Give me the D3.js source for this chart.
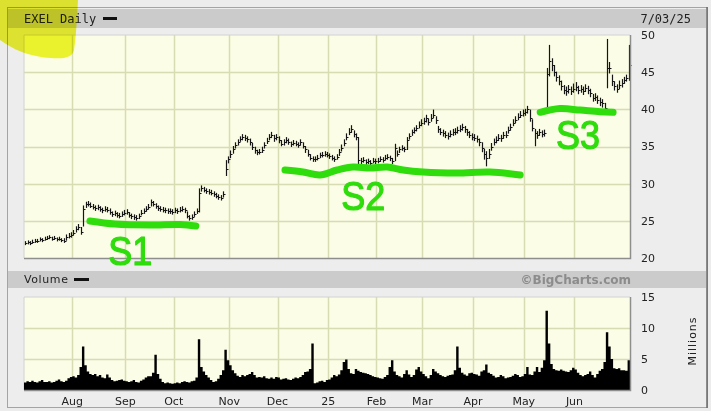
<!DOCTYPE html>
<html>
<head>
<meta charset="utf-8">
<script src="https://cdn.jsdelivr.net/npm/d3@7"></script>
<style>
body { margin: 0; background: #ececec; }
svg { display: block; }
text { font-family: "DejaVu Sans", Verdana, sans-serif; }
</style>
</head>
<body>
<div id="chart"></div>
<script>
// EXEL daily bars, Jul 3 2024 .. Jul 3 2025 (one entry per trading day)
var closes = [
  22.0,22.1,22.0,22.2,22.3,22.3,22.5,22.4,22.6,22.7,22.8,22.6,22.7,22.5,22.6,22.4,22.3,22.8,23.0,23.1,
  23.4,23.9,24.2,23.5,26.6,27.2,27.3,27.0,26.9,26.7,26.8,26.6,26.4,26.6,26.5,26.2,25.9,26.0,25.8,25.7,25.9,26.1,
  26.2,25.8,25.6,25.5,25.4,25.6,26.1,26.3,26.6,26.9,27.5,27.3,27.0,26.7,26.6,26.5,26.4,26.3,26.3,26.2,
  26.4,26.3,26.5,26.6,26.4,25.7,25.4,25.5,25.9,26.3,28.8,29.4,29.2,29.0,28.9,28.8,28.6,28.4,28.2,28.1,28.6,32.0,33.3,
  34.0,34.6,35.2,35.6,36.0,36.3,36.2,36.0,35.6,35.0,34.5,34.2,34.3,34.5,35.2,35.8,36.3,36.6,36.1,36.3,
  35.9,35.4,35.6,35.9,35.6,35.3,35.5,35.4,35.2,35.6,35.1,34.6,34.0,33.5,33.3,33.3,33.5,33.8,33.9,34.0,33.9,
  33.7,33.5,33.3,33.6,34.2,34.8,35.5,36.3,37.0,37.3,36.7,36.3,33.2,33.0,33.2,32.9,33.0,32.8,33.1,33.0,
  33.1,33.3,33.2,33.5,33.6,33.4,33.0,34.8,34.0,34.6,34.8,34.6,35.9,36.4,36.9,37.2,37.5,37.9,38.2,
  38.4,38.8,38.3,38.9,39.3,38.6,37.3,37.0,36.8,36.6,36.4,36.7,36.9,37.0,37.2,37.4,37.6,37.3,36.9,36.6,36.3,
  36.2,36.0,35.6,34.8,34.0,33.4,34.0,35.0,35.6,35.9,36.2,36.1,36.5,36.6,37.2,37.6,38.2,38.6,39.0,39.3,39.5,
  39.6,40.0,38.8,37.5,36.8,36.6,36.9,36.7,36.8,44.8,46.5,46.0,45.0,44.3,43.8,43.1,42.6,42.4,42.7,42.5,42.8,
  43.0,42.6,42.8,42.5,42.9,42.6,42.2,41.5,41.7,41.3,41.0,40.8,40.2,45.5,45.6,43.8,43.1,42.8,43.3,43.5,
  43.9,44.2,46.0
]

var highs = [
  22.2,22.3,22.2,22.4,22.5,22.5,22.7,22.6,22.8,22.9,23.0,22.8,22.9,22.7,22.8,22.6,22.6,23.1,23.3,23.4,
  23.7,24.2,24.5,24.1,27.0,27.5,27.6,27.4,27.2,27.0,27.1,26.9,26.7,26.9,26.8,26.6,26.2,26.3,26.1,26.0,26.2,26.4,
  26.5,26.1,25.9,25.8,25.7,25.9,26.4,26.6,26.9,27.2,27.8,27.6,27.3,27.0,26.9,26.8,26.7,26.6,26.6,26.5,
  26.7,26.6,26.8,26.9,26.7,26.2,25.7,25.8,26.2,26.6,29.3,29.7,29.5,29.3,29.2,29.1,28.9,28.7,28.5,28.4,28.9,33.1,33.6,
  34.4,35.0,35.5,35.9,36.3,36.6,36.5,36.3,36.0,35.4,34.9,34.5,34.6,34.9,35.5,36.1,36.6,36.9,36.5,36.6,
  36.3,35.8,35.9,36.2,36.0,35.6,35.8,35.7,35.5,35.9,35.5,35.0,34.5,33.9,33.6,33.6,33.8,34.1,34.2,34.3,34.2,
  34.0,33.8,33.6,33.9,34.6,35.2,35.9,36.7,37.4,37.8,37.1,36.7,36.2,33.4,33.5,33.2,33.3,33.1,33.4,33.3,
  33.4,33.6,33.5,33.8,33.9,33.7,33.4,35.3,34.4,34.9,35.1,34.9,36.2,36.7,37.2,37.5,37.8,38.3,38.6,
  38.8,39.2,38.7,39.3,39.9,39.0,37.7,37.4,37.2,37.0,36.8,37.1,37.3,37.4,37.6,37.8,38.0,37.7,37.3,37.0,36.7,
  36.6,36.4,36.0,35.5,34.6,34.3,34.6,35.4,36.0,36.3,36.6,36.5,36.9,37.0,37.6,38.0,38.6,39.0,39.4,39.7,39.9,
  40.0,40.4,39.9,38.6,37.3,37.0,37.3,37.1,37.2,45.5,48.6,46.8,45.9,45.0,44.5,43.8,43.2,43.0,43.2,43.0,43.4,
  43.6,43.1,43.2,43.0,43.3,43.1,42.7,42.0,42.1,41.8,41.5,41.3,40.8,49.4,46.3,44.6,43.7,43.3,43.8,44.0,
  44.3,44.6,48.6
]

var lows = [
  21.8,21.9,21.8,22.0,22.1,22.1,22.3,22.2,22.4,22.5,22.6,22.4,22.5,22.3,22.4,22.2,22.1,22.4,22.7,22.8,
  23.1,23.5,23.8,23.2,24.3,26.8,27.0,26.8,26.6,26.4,26.5,26.3,26.1,26.3,26.2,25.9,25.6,25.7,25.5,25.4,25.6,25.8,
  25.9,25.5,25.3,25.2,25.1,25.3,25.8,26.0,26.3,26.6,27.0,27.0,26.7,26.4,26.3,26.2,26.1,26.0,26.0,25.9,
  26.1,26.0,26.2,26.3,26.1,25.4,25.1,25.2,25.6,26.0,26.2,29.0,28.9,28.7,28.6,28.5,28.3,28.1,27.9,27.8,28.2,31.1,32.8,
  33.5,34.1,34.8,35.2,35.7,35.9,35.8,35.6,35.2,34.6,34.1,33.9,34.0,34.2,34.8,35.4,35.9,36.2,35.7,35.9,
  35.5,35.1,35.2,35.5,35.3,35.0,35.2,35.1,34.9,35.2,34.8,34.2,33.7,33.2,33.0,33.0,33.2,33.5,33.6,33.7,33.6,
  33.4,33.2,33.0,33.3,33.8,34.4,35.1,35.9,36.6,36.9,36.3,35.9,32.6,32.7,32.9,32.6,32.7,32.5,32.8,32.7,
  32.8,33.0,32.9,33.2,33.3,33.1,32.7,33.1,33.7,34.2,34.5,34.3,34.6,36.0,36.5,36.8,37.1,37.5,37.8,
  38.0,38.3,37.9,38.4,38.9,38.1,36.9,36.6,36.4,36.2,36.0,36.3,36.5,36.6,36.8,37.0,37.2,36.9,36.5,36.2,35.9,
  35.8,35.6,35.1,34.3,33.3,32.4,33.4,34.5,35.2,35.5,35.8,35.7,36.1,36.2,36.8,37.2,37.8,38.2,38.6,38.9,39.1,
  39.2,39.5,38.4,37.1,35.1,36.1,36.5,36.3,36.4,40.3,44.5,45.2,44.5,43.8,43.3,42.6,42.1,41.9,42.2,42.0,42.3,
  42.5,42.1,42.3,42.0,42.4,42.1,41.7,41.1,41.2,40.8,40.5,40.3,39.8,42.9,44.9,43.2,42.6,42.3,42.8,43.0,
  43.5,43.8,43.9
]

// volume in millions
var volumes = [
  1.2,1.4,1.3,1.5,1.3,1.2,1.4,1.6,1.3,1.3,1.4,1.2,1.3,1.5,1.7,1.4,1.3,1.5,1.9,2.1,
  2.2,2.0,2.4,3.7,7.0,4.0,3.0,2.6,2.4,2.6,2.2,2.4,2.0,1.9,2.5,2.0,1.6,1.4,1.5,1.6,1.7,1.5,
  1.4,1.3,1.4,1.6,1.3,1.2,1.5,1.7,2.0,2.2,2.2,2.8,5.7,2.6,1.8,1.3,1.1,1.2,1.1,1.0,
  1.1,1.2,1.1,1.3,1.4,1.3,1.2,1.4,1.5,2.0,8.2,3.7,3.0,2.4,2.0,1.6,1.3,1.4,1.8,2.4,3.2,6.5,4.8,
  4.0,3.2,2.7,2.3,2.1,2.4,2.2,2.4,2.6,2.9,2.4,2.0,2.1,2.0,2.2,1.9,1.8,2.0,1.8,2.1,
  2.0,1.7,1.8,1.9,1.7,1.6,1.8,2.0,1.9,2.1,2.4,2.9,3.0,3.4,7.5,1.1,1.2,1.4,1.5,1.3,1.6,
  1.7,2.0,2.4,2.2,2.5,3.2,4.5,4.9,3.4,2.7,2.6,3.4,3.1,2.9,2.8,2.7,2.6,2.4,2.2,2.1,
  2.0,1.9,1.8,2.1,2.4,3.7,4.8,3.0,2.4,2.2,2.0,2.6,3.2,2.5,2.1,2.4,3.3,3.7,3.0,
  2.6,2.2,1.9,2.4,3.4,3.0,2.7,2.4,2.2,2.1,2.3,2.4,2.5,3.2,7.0,3.6,2.8,2.5,2.3,2.7,2.8,
  2.6,2.5,2.3,3.0,3.2,4.1,2.8,2.6,2.3,2.0,2.1,2.4,2.2,1.9,2.0,2.1,2.3,2.6,2.4,2.1,2.2,
  2.6,3.7,2.5,2.4,3.0,3.7,2.9,3.6,4.8,12.8,7.5,4.2,3.4,3.2,3.1,3.3,3.1,3.0,2.9,3.2,3.6,
  3.3,2.8,2.4,2.2,2.4,2.6,3.0,2.4,2.0,2.6,3.1,3.4,4.5,9.3,7.0,5.0,3.5,3.4,3.5,3.2,
  3.2,3.1,4.8
]

var monthLabels = ["Aug","Sep","Oct","Nov","Dec","25","Feb","Mar","Apr","May","Jun"]
var monthStarts = [20, 42, 62, 85, 105, 126, 146, 165, 186, 207, 228]
var priceTicks = [20, 25, 30, 35, 40, 45, 50]
var volTicks = [0, 5, 10, 15]

// hand drawn marks, in [day index, price]
var s1Stroke = [[27.3,24.98],[37.7,24.57],[52.2,24.44],[64.6,24.51],[71.2,24.31]]
var s2Stroke = [[108.1,31.84],[115.6,31.57],[122.6,31.17],[129.7,31.84],[136.3,32.24],[143.3,32.11],
                [150.4,32.24],[157.0,31.84],[165.3,31.57],[179.4,31.44],[193.0,31.57],[205.5,31.17]]
var s3Stroke = [[213.8,39.6],[222.0,40.1],[230.3,39.9],[238.6,39.68],[244.0,39.6]]
var marks = [
  {label: "S1", at: [44.0, 19.0]},
  {label: "S2", at: [140.5, 26.4]},
  {label: "S3", at: [229.5, 34.6]}
]

var width = 711, height = 411
var left = 24, right = 630

var svg = d3.select("#chart")
  .append("svg")
  .attr("width", width)
  .attr("height", height)

var x = d3.scaleLinear().domain([0, closes.length]).range([left, right])
var y = d3.scaleLinear().domain([20, 50]).range([258, 35])
var yv = d3.scaleLinear().domain([0, 15]).range([390, 297])

var gridColor = "#d8dcb2"

// frame
svg.append("rect").attr("width", width).attr("height", height).attr("fill", "#ececec")
svg.append("rect")
  .attr("x", 7.5).attr("y", 7.5).attr("width", 700).attr("height", 400)
  .attr("fill", "#ededed").attr("stroke", "#a4a4a4")
svg.append("line")
  .attr("x1", 707).attr("x2", 707).attr("y1", 7).attr("y2", 408)
  .attr("stroke", "#6a6a6a").attr("stroke-width", 1.5)

// header bands
svg.append("rect").attr("x", 8).attr("y", 9).attr("width", 698).attr("height", 19).attr("fill", "#cbcbcb")
svg.append("rect").attr("x", 8).attr("y", 271).attr("width", 698).attr("height", 17).attr("fill", "#cbcbcb")

svg.append("text")
  .attr("x", 24).attr("y", 23)
  .style("font-family", "'DejaVu Sans Mono', monospace")
  .style("font-size", "12px")
  .attr("fill", "#222")
  .text("EXEL Daily")
svg.append("rect").attr("x", 103).attr("y", 17).attr("width", 14).attr("height", 3).attr("fill", "#111")

svg.append("text")
  .attr("x", 691).attr("y", 23)
  .attr("text-anchor", "end")
  .style("font-family", "'DejaVu Sans Mono', monospace")
  .style("font-size", "12px")
  .attr("fill", "#222")
  .text("7/03/25")

svg.append("text")
  .attr("x", 24).attr("y", 283)
  .style("font-size", "11px")
  .style("letter-spacing", "0.6px")
  .attr("fill", "#222")
  .text("Volume")
svg.append("rect").attr("x", 74).attr("y", 278).attr("width", 15).attr("height", 3).attr("fill", "#111")

svg.append("text")
  .attr("x", 631).attr("y", 284)
  .attr("text-anchor", "end")
  .style("font-size", "12px").style("font-weight", "bold")
  .attr("fill", "#8c8c8c")
  .text("\u00a9BigCharts.com")

// plot panels
function panel(y0, y1, ticks, ys) {
  var g = svg.append("g")
  g.append("rect")
    .attr("x", left).attr("y", y0).attr("width", right - left).attr("height", y1 - y0)
    .attr("fill", "#fbfde6")
  g.selectAll(".hgrid").data(ticks).enter().append("line")
    .attr("x1", left).attr("x2", right)
    .attr("y1", function(d) { return Math.round(ys(d)) + 0.5 })
    .attr("y2", function(d) { return Math.round(ys(d)) + 0.5 })
    .attr("stroke", gridColor).attr("stroke-width", 1.5)
  g.selectAll(".vgrid").data(monthStarts).enter().append("line")
    .attr("x1", function(d) { return Math.round(x(d)) + 0.5 })
    .attr("x2", function(d) { return Math.round(x(d)) + 0.5 })
    .attr("y1", y0).attr("y2", y1)
    .attr("stroke", gridColor).attr("stroke-width", 1.5)
  g.append("path")
    .attr("d", "M" + left + "," + y1 + "V" + y0 + "H" + right)
    .attr("fill", "none").attr("stroke", "#d2d2d2")
  return g
}

var pg = panel(35, 258, priceTicks.slice(1, -1), y)
var vg = panel(297, 390, volTicks.slice(1, -1), yv)

// price bars
pg.selectAll(".bar").data(closes).enter().append("line")
  .attr("class", "bar")
  .attr("x1", function(d, i) { return Math.round(x(i + 0.5)) + 0.5 })
  .attr("x2", function(d, i) { return Math.round(x(i + 0.5)) + 0.5 })
  .attr("y1", function(d, i) { return y(lows[i]) + 0.5 })
  .attr("y2", function(d, i) { return y(highs[i]) - 0.5 })
  .attr("stroke", "#151515").attr("stroke-width", 1.2)
pg.selectAll(".tick").data(closes).enter().append("line")
  .attr("class", "tick")
  .attr("x1", function(d, i) { return Math.round(x(i + 0.5)) })
  .attr("x2", function(d, i) { return Math.round(x(i + 0.5)) + 2.5 })
  .attr("y1", function(d) { return Math.round(y(d)) + 0.5 })
  .attr("y2", function(d) { return Math.round(y(d)) + 0.5 })
  .attr("stroke", "#151515").attr("stroke-width", 1)

// volume as a solid stepped silhouette
var volArea = d3.area()
  .x(function(d, i) { return x(i) })
  .y0(yv(0))
  .y1(function(d) { return yv(d) })
  .curve(d3.curveStepAfter)
vg.append("path")
  .attr("d", volArea(volumes.concat([volumes[volumes.length - 1]])))
  .attr("fill", "#000")

// darker bottom / right edges of the panels
;[[35, 258], [297, 390]].forEach(function(p) {
  svg.append("path")
    .attr("d", "M" + left + "," + (p[1] + 0.5) + "H" + (right + 0.5) + "V" + p[0])
    .attr("fill", "none").attr("stroke", "#8e8e8e").attr("stroke-width", 1.5)
})

// axis labels
svg.selectAll(".plabel").data(priceTicks).enter().append("text")
  .attr("x", 641).attr("y", function(d) { return y(d) })
  .attr("dy", "0.36em")
  .style("font-size", "11px").attr("fill", "#222")
  .text(function(d) { return d })

svg.selectAll(".vlabel").data(volTicks).enter().append("text")
  .attr("x", 641).attr("y", function(d) { return yv(d) })
  .attr("dy", "0.36em")
  .style("font-size", "11px").attr("fill", "#222")
  .text(function(d) { return d })

svg.append("text")
  .attr("transform", "translate(696,341) rotate(-90)")
  .attr("text-anchor", "middle")
  .style("font-size", "11px").style("letter-spacing", "1px")
  .attr("fill", "#222")
  .text("Millions")

svg.selectAll(".mlabel").data(monthLabels).enter().append("text")
  .attr("x", function(d, i) { return x(monthStarts[i]) })
  .attr("y", 405)
  .attr("text-anchor", "middle")
  .style("font-size", "11px").attr("fill", "#222")
  .text(function(d) { return d })

// green hand-drawn notes
var green = "#2fdc0c"
var pen = d3.line()
  .x(function(d) { return x(d[0]) })
  .y(function(d) { return y(d[1]) })
  .curve(d3.curveCatmullRom)

;[s1Stroke, s2Stroke, s3Stroke].forEach(function(s) {
  svg.append("path")
    .attr("d", pen(s))
    .attr("fill", "none").attr("stroke", green)
    .attr("stroke-width", 7).attr("stroke-linecap", "round")
})

svg.selectAll(".mark").data(marks).enter().append("text")
  .attr("x", function(d) { return x(d.at[0]) })
  .attr("y", function(d) { return y(d.at[1]) })
  .attr("text-anchor", "middle")
  .attr("textLength", 44).attr("lengthAdjust", "spacingAndGlyphs")
  .style("font-family", "'Liberation Sans', sans-serif")
  .style("font-size", "40px")
  .attr("fill", green).attr("stroke", green).attr("stroke-width", 1.2)
  .attr("stroke-linejoin", "round")
  .text(function(d) { return d.label })

// yellow highlighter
svg.append("path")
  .attr("d", "M0,0 L78,0 C77,18 76,38 74,50 C72,58 64,59 50,58 C35,57 18,52 6,44 L0,40 Z")
  .attr("fill", "#eaf200").attr("opacity", 0.8)
  .style("mix-blend-mode", "multiply")
</script>
</body>
</html>
